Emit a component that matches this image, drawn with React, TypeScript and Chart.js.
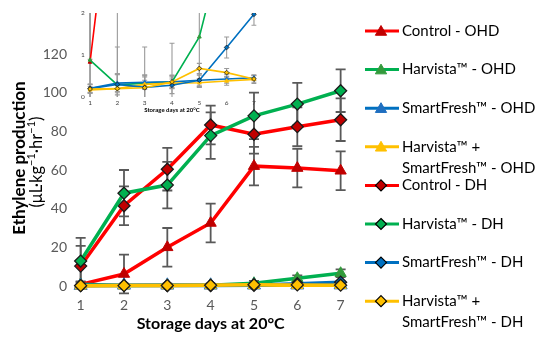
import React, { useEffect, useRef } from "react";
import { Chart, registerables } from "chart.js";
Chart.register(...registerables);

// ---- data ----
const days = [1, 2, 3, 4, 5, 6, 7];
const seriesNames = [
  ["Control - OHD"],
  ["Harvista™ - OHD"],
  ["SmartFresh™ - OHD"],
  ["Harvista™ +", "SmartFresh™ - OHD"],
  ["Control - DH"],
  ["Harvista™ - DH"],
  ["SmartFresh™ - DH"],
  ["Harvista™ +", "SmartFresh™ - DH"],
];
const controlOHD = [0.83, 6.2, 20, 32.6, 62, 61, 59.6];
const controlOHDErr = [1.5, 10, 10, 10, 10, 10, 10];
const harvistaOHD = [0.88, 0.29, 0.33, 0.36, 1.43, 4, 6.6];
const harvistaOHDErr = [1.2, 0.9, 0.86, 0.92, 1.2, 1.5, 2];
const smartFreshOHD = [0.21, 0.33, 0.35, 0.36, 0.4, 0.43, 0.46];
const smartFreshOHDErr = [0.1, 0.2, 0.17, 0.16, 0.12, 0.1, 0.06];
const comboOHD = [0.17, 0.2, 0.3, 0.33, 0.34, 0.38, 0.42];
const comboOHDErr = [0.08, 0.1, 0.1, 0.1, 0.1, 0.1, 0.1];
const controlDH = [10.3, 41.5, 60.4, 83.3, 78.5, 82.4, 86];
const controlDHErr = [10.5, 10, 11, 10, 10, 10, 11];
const harvistaDH = [12.9, 48, 52.2, 77.8, 88, 94.1, 101];
const harvistaDHErr = [12, 12, 12, 12, 12, 11, 11];
const smartFreshDH = [0.2, 0.3, 0.23, 0.28, 0.4, 1.18, 1.97];
const smartFreshDHErr = [0.1, 0.25, 0.25, 0.2, 0.15, 0.25, 0.26];
const comboDH = [0.19, 0.2, 0.22, 0.36, 0.68, 0.58, 0.43];
const comboDHErr = [0.1, 0.35, 0.3, 0.15, 0.12, 0.1, 0.08];

const mainYTicks = [0, 20, 40, 60, 80, 100, 120];
const insetYTicks = [0, 1, 2];

const values = [controlOHD, harvistaOHD, smartFreshOHD, comboOHD, controlDH, harvistaDH, smartFreshDH, comboDH];
const errors = [controlOHDErr, harvistaOHDErr, smartFreshOHDErr, comboOHDErr, controlDHErr, harvistaDHErr, smartFreshDHErr, comboDHErr];

// ---- styles ----
const lineColors = ["#FF0000", "#00B050", "#0070C0", "#FFC000", "#FF0000", "#00B050", "#0070C0", "#FFC000"];
const markerFill = ["#C00000", "#339A3C", "#1F6FC0", "#FFC000", "#C00000", "#00B050", "#0070C0", "#FFC000"];
const isDiamond = [false, false, false, false, true, true, true, true];
const FONT = "Lato, 'Open Sans', sans-serif";
const TICK_COLOR = "#595959";

function markerPath(ctx: CanvasRenderingContext2D, diamond: boolean, x: number, y: number, r: number) {
  ctx.beginPath();
  if (diamond) {
    ctx.moveTo(x, y - r);
    ctx.lineTo(x + r, y);
    ctx.lineTo(x, y + r);
    ctx.lineTo(x - r, y);
  } else {
    ctx.moveTo(x, y - r);
    ctx.lineTo(x + 0.866 * r, y + 0.5 * r);
    ctx.lineTo(x - 0.866 * r, y + 0.5 * r);
  }
  ctx.closePath();
}

const errorBarPlugin = {
  id: "errorBars",
  beforeDatasetsDraw(chart: any, _args: any, opts: any) {
    const ctx = chart.ctx;
    const xs = chart.scales.x;
    const ys = chart.scales.y;
    const area = chart.chartArea;
    ctx.save();
    if (opts.clip) {
      ctx.beginPath();
      ctx.rect(area.left, area.top, area.right - area.left, area.bottom - area.top);
      ctx.clip();
    }
    ctx.strokeStyle = opts.color;
    ctx.lineWidth = opts.width;
    chart.data.datasets.forEach((ds: any) => {
      const err: number[] = ds.errors;
      if (!err) return;
      ds.data.forEach((p: any, j: number) => {
        const x = xs.getPixelForValue(p.x);
        const yt = ys.getPixelForValue(p.y + err[j]);
        const yb = ys.getPixelForValue(p.y - err[j]);
        ctx.beginPath();
        ctx.moveTo(x, yt);
        ctx.lineTo(x, yb);
        ctx.moveTo(x - opts.cap, yt);
        ctx.lineTo(x + opts.cap, yt);
        ctx.moveTo(x - opts.cap, yb);
        ctx.lineTo(x + opts.cap, yb);
        ctx.stroke();
      });
    });
    ctx.restore();
  },
};

const decorPlugin = {
  id: "decor",
  afterDraw(chart: any, _args: any, opts: any) {
    const ctx = chart.ctx;
    ctx.save();
    if (opts.legend) {
      // legend
      ctx.font = `15px ${FONT}`;
      ctx.textBaseline = "middle";
      ctx.textAlign = "left";
      seriesNames.forEach((lines, i) => {
        const y = 31 + i * 38.6;
        ctx.strokeStyle = lineColors[i];
        ctx.lineWidth = 3;
        ctx.beginPath();
        ctx.moveTo(365, y);
        ctx.lineTo(399, y);
        ctx.stroke();
        markerPath(ctx, isDiamond[i], 381, y + (isDiamond[i] ? 0 : 1), isDiamond[i] ? 5.5 : 6.5);
        ctx.fillStyle = markerFill[i];
        ctx.fill();
        ctx.lineWidth = isDiamond[i] ? 1.2 : 1;
        ctx.strokeStyle = isDiamond[i] ? "#000" : markerFill[i];
        ctx.stroke();
        ctx.fillStyle = "#000";
        lines.forEach((t, k) => ctx.fillText(t, 402, y + k * 21));
      });
      // y title
      ctx.translate(20, 158);
      ctx.rotate(-Math.PI / 2);
      ctx.textAlign = "center";
      ctx.font = `bold 17px ${FONT}`;
      ctx.fillText("Ethylene production", 0, 0);
      ctx.setTransform(1, 0, 0, 1, 0, 0);
      ctx.translate(37, 162);
      ctx.rotate(-Math.PI / 2);
      const segs: [string, boolean][] = [["(μL·kg", false], ["−1", true], ["·hr", false], ["−1", true], [")", false]];
      const big = `16.5px ${FONT}`;
      const small = `11px ${FONT}`;
      let w = 0;
      segs.forEach(([t, s]) => { ctx.font = s ? small : big; w += ctx.measureText(t).width; });
      let x = -w / 2;
      ctx.textAlign = "left";
      segs.forEach(([t, s]) => {
        ctx.font = s ? small : big;
        ctx.fillText(t, x, s ? -5.5 : 0);
        x += ctx.measureText(t).width;
      });
      ctx.setTransform(1, 0, 0, 1, 0, 0);
    } else {
      // inset day labels, positioned through the inset's x scale
      const xs = chart.scales.x;
      ctx.font = `6.5px ${FONT}`;
      ctx.fillStyle = "#404040";
      ctx.textAlign = "center";
      ctx.textBaseline = "middle";
      days.forEach((d) => ctx.fillText(String(d), xs.getPixelForValue(d), chart.chartArea.bottom + 6));
    }
    // x title
    const a = chart.chartArea;
    ctx.textAlign = "center";
    ctx.textBaseline = "middle";
    ctx.fillStyle = "#000";
    ctx.font = `bold ${opts.titleSize}px ${FONT}`;
    ctx.fillText("Storage days at 20°C", opts.titleX ?? (a.left + a.right) / 2, opts.titleY);
    ctx.restore();
  },
};

function buildDatasets(inset: boolean) {
  return values.map((vals, i) => {
    const diamond = isDiamond[i];
    let r = inset ? (diamond ? 2.4 : 2.2) : diamond ? 6 : 6.5;
    if (!inset && i === 2) r = 7.5;
    return {
      label: seriesNames[i].join(" "),
      data: days.map((d, j) => ({ x: d, y: vals[j] })),
      errors: errors[i],
      borderColor: lineColors[i],
      backgroundColor: markerFill[i],
      borderWidth: inset ? 1.6 : 3.5,
      pointStyle: diamond ? "rectRot" : "triangle",
      pointRadius: r,
      pointBackgroundColor: markerFill[i],
      pointBorderColor: diamond ? "#1a1a1a" : markerFill[i],
      pointBorderWidth: diamond ? (inset ? 0.8 : 1.3) : 1,
      tension: 0,
      order: -i,
      clip: inset ? undefined : false,
    };
  });
}

function makeOptions(inset: boolean, yTicks: number[]) {
  const tickFont = { family: FONT, size: inset ? 6.5 : 14 };
  return {
    responsive: false,
    animation: false as const,
    events: [],
    layout: inset
      ? { padding: { top: 13, right: 13.3, left: 0, bottom: 0 } }
      : { padding: { top: 54, right: 200.7, left: 0, bottom: 0 } },
    plugins: {
      legend: { display: false },
      tooltip: { enabled: false },
      errorBars: inset
        ? { color: "#9a9a9a", width: 1.1, cap: 2.5, clip: true }
        : { color: "#595959", width: 1.8, cap: 5, clip: false },
      decor: inset
        ? { legend: false, titleSize: 6, titleY: 110 }
        : { legend: true, titleSize: 16, titleY: 324 },
    },
    scales: {
      x: {
        type: "linear",
        min: inset ? 0.9 : 0.8,
        max: inset ? 7.1 : 7.2,
        grid: { display: false, drawTicks: false },
        border: { display: false },
        afterBuildTicks: (s: any) => { s.ticks = days.map((v) => ({ value: v })); },
        afterFit: (s: any) => { s.height = inset ? 21 : 56; },
        ticks: { display: !inset, font: tickFont, color: TICK_COLOR, padding: 11, maxRotation: 0, autoSkip: false },
      },
      y: {
        min: yTicks[0],
        max: yTicks[yTicks.length - 1],
        grid: { display: false, drawTicks: false },
        border: { display: false },
        afterBuildTicks: (s: any) => { s.ticks = yTicks.map((v) => ({ value: v })); },
        afterFit: (s: any) => { s.width = inset ? 17.3 : 72; },
        ticks: { font: tickFont, color: inset ? "#404040" : TICK_COLOR, padding: inset ? 2.5 : 5, autoSkip: false },
      },
    },
  };
}

export default function App() {
  const mainRef = useRef<HTMLCanvasElement>(null);
  const insetRef = useRef<HTMLCanvasElement>(null);
  useEffect(() => {
    const main = new Chart(mainRef.current!, {
      type: "line",
      data: { datasets: buildDatasets(false) as any },
      options: makeOptions(false, mainYTicks) as any,
      plugins: [errorBarPlugin, decorPlugin],
    });
    const inset = new Chart(insetRef.current!, {
      type: "line",
      data: { datasets: buildDatasets(true) as any },
      options: makeOptions(true, insetYTicks) as any,
      plugins: [errorBarPlugin, decorPlugin],
    });
    return () => {
      main.destroy();
      inset.destroy();
    };
  }, []);
  return (
    <div style={{ position: "fixed", left: 0, top: 0, width: 550, height: 342, background: "#fff" }}>
      <canvas ref={mainRef} width={550} height={342} style={{ position: "absolute", left: 0, top: 0 }} />
      <canvas ref={insetRef} width={200} height={118} style={{ position: "absolute", left: 70, top: 0 }} />
    </div>
  );
}
